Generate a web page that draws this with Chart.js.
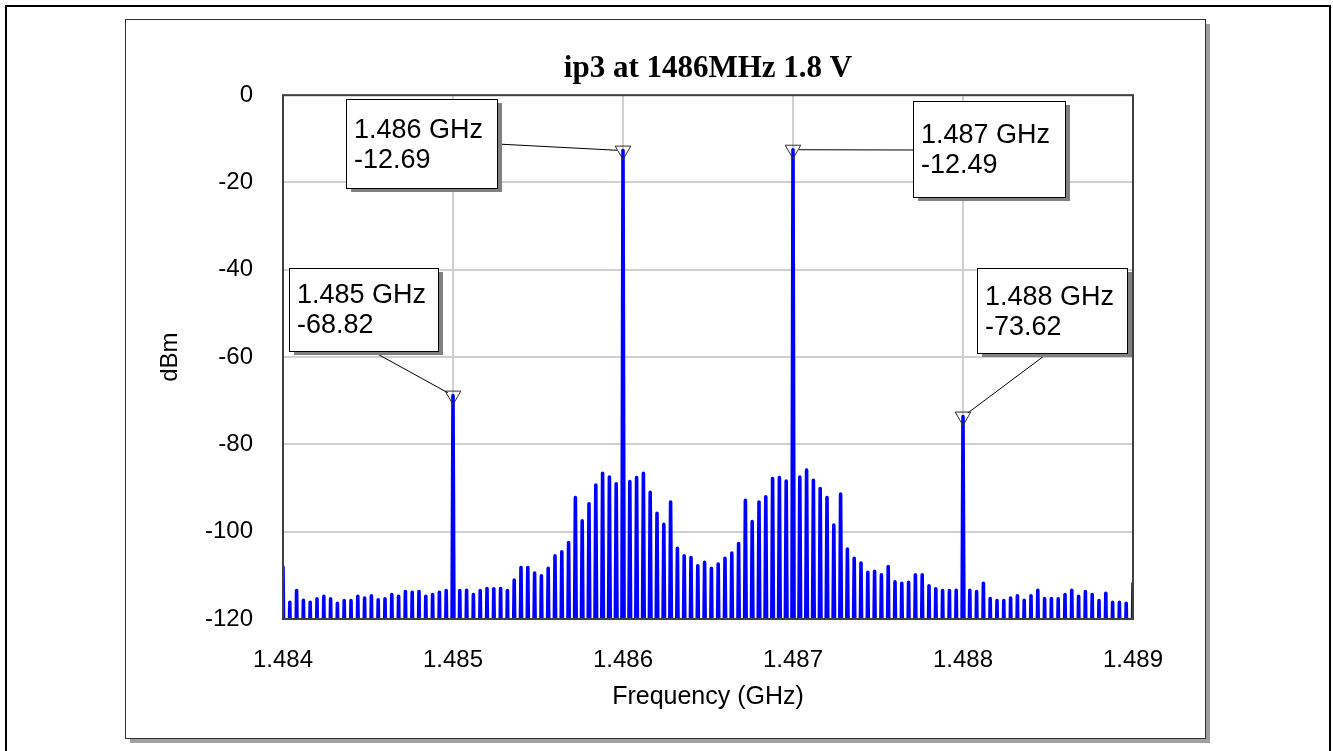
<!DOCTYPE html>
<html><head><meta charset="utf-8">
<script src="https://cdn.jsdelivr.net/npm/chart.js@4.4.1/dist/chart.umd.min.js"></script>
<style>html,body{margin:0;padding:0;background:#fff;overflow:hidden}canvas{display:block}</style>
</head><body>
<canvas id="c" width="1333" height="751"></canvas>
<script>
// ---------------- data ----------------
const chartTitle = 'ip3 at 1486MHz 1.8 V';
const xAxisTitle = 'Frequency (GHz)';
const yAxisTitle = 'dBm';
const xTickValues = [1.484, 1.485, 1.486, 1.487, 1.488, 1.489];
const yTickValues = [0, -20, -40, -60, -80, -100, -120];
const freqStart = 1.484;    // GHz, first spectral line
const freqStep = 0.00004;   // GHz between spectral lines (40 kHz)
// peak level (dBm) of each spectral line, 1.484 .. 1.489 GHz
const peakLevels = [
  -108.1, -116.2, -113.5, -115.7, -116.2, -115.4, -114.8, -115.4, -116.4, -115.8,
  -115.8, -114.8, -115.2, -114.7, -115.6, -115.4, -114.4, -114.8, -113.7, -113.9,
  -113.7, -114.8, -114.4, -113.9, -113.5, -68.82, -113.5, -113.4, -114.4, -113.5,
  -113.0, -113.1, -113.0, -113.5, -111.1, -108.2, -108.2, -109.5, -110.1, -108.4,
  -105.5, -104.6, -102.5, -92.2, -97.5, -93.6, -89.3, -86.6, -87.5, -89.0,
  -12.69, -88.5, -87.6, -86.6, -91.0, -95.8, -98.3, -93.2, -103.8, -105.5,
  -105.9, -107.8, -107.0, -108.4, -107.4, -106.1, -104.9, -102.7, -92.8, -97.7,
  -93.2, -92.0, -87.8, -87.6, -88.4, -12.49, -87.5, -85.9, -88.2, -90.1,
  -92.2, -98.5, -91.4, -104.0, -106.1, -107.2, -109.3, -109.1, -109.9, -108.0,
  -111.5, -111.8, -111.6, -109.9, -109.9, -112.4, -113.1, -113.5, -113.5, -113.4,
  -73.62, -113.4, -113.7, -111.8, -115.3, -115.8, -115.8, -115.2, -114.7, -115.7,
  -114.7, -113.4, -115.3, -115.3, -115.4, -114.4, -113.4, -114.8, -113.7, -114.4,
  -115.8, -114.1, -116.2, -116.2, -116.4, -111.8
];
const traceFloor = -135;    // trace level between lines (below the axis)
const markerFreqs = [1.485, 1.486, 1.487, 1.488];
const markerLevels = [-68.82, -12.69, -12.49, -73.62];

// ---------------- layout / style (not data) ----------------
const spikeHalfWidth = 0.000007;
const markerBoxes = [
  {x: 289, y: 268, w: 149, h: 83, ty: 35, ax: 372, ay: 351},
  {x: 346, y: 99,  w: 151, h: 89, ty: 39, ax: 497, ay: 144},
  {x: 913, y: 101, w: 152, h: 96, ty: 42, ax: 913, ay: 150},
  {x: 977, y: 268, w: 150, h: 85, ty: 37, ax: 1048, ay: 353}
];
const SANS = '"Liberation Sans", Arial, sans-serif';
const SERIF = '"Liberation Serif", "Times New Roman", serif';

// build trace points from the peak list
const tracePoints = [];
peakLevels.forEach((lvl, k) => {
  const f = freqStart + k * freqStep;
  tracePoints.push({x: f - spikeHalfWidth, y: traceFloor});
  tracePoints.push({x: f, y: lvl});
  tracePoints.push({x: f + spikeHalfWidth, y: traceFloor});
});
const markerPoints = markerFreqs.map((f, i) => ({x: f, y: markerLevels[i]}));

const decorPlugin = {
  id: 'decor',
  beforeDraw(chart) {
    const ctx = chart.ctx;
    ctx.save();
    ctx.fillStyle = '#fff';
    ctx.fillRect(0, 0, chart.width, chart.height);
    ctx.strokeStyle = '#000';
    ctx.lineWidth = 2;
    ctx.strokeRect(6, 6, 1324, 800);
    ctx.fillStyle = '#a0a0a0';
    ctx.fillRect(130, 24, 1080, 719);
    ctx.fillStyle = '#fff';
    ctx.fillRect(125, 19, 1080, 719);
    ctx.strokeStyle = '#303030';
    ctx.lineWidth = 1;
    ctx.strokeRect(125.5, 19.5, 1080, 719);
    ctx.restore();
  },
  afterDatasetsDraw(chart) {
    const ctx = chart.ctx;
    const a = chart.chartArea;
    const xs = chart.scales.x, ys = chart.scales.y;
    ctx.save();
    ctx.strokeStyle = '#404040';
    ctx.lineWidth = 2;
    ctx.strokeRect(a.left, a.top, a.right - a.left, a.bottom - a.top);
    markerBoxes.forEach((b, i) => {
      const px = xs.getPixelForValue(markerFreqs[i]);
      const py = ys.getPixelForValue(markerLevels[i]);
      const dx = px - b.ax, dy = py - b.ay;
      const len = Math.hypot(dx, dy);
      const ex = px - dx / len * 6, ey = py - dy / len * 6;
      ctx.strokeStyle = '#000';
      ctx.lineWidth = 1;
      ctx.beginPath();
      ctx.moveTo(b.ax, b.ay);
      ctx.lineTo(ex, ey);
      ctx.stroke();
      ctx.fillStyle = '#808080';
      ctx.fillRect(b.x + 5, b.y + 4, b.w, b.h);
      ctx.fillStyle = '#fff';
      ctx.fillRect(b.x, b.y, b.w, b.h);
      ctx.strokeStyle = '#000';
      ctx.strokeRect(b.x + 0.5, b.y + 0.5, b.w, b.h);
      ctx.fillStyle = '#000';
      ctx.font = '27px ' + SANS;
      ctx.textAlign = 'left';
      ctx.textBaseline = 'alphabetic';
      ctx.fillText(markerFreqs[i].toFixed(3) + ' GHz', b.x + 8, b.y + b.ty);
      ctx.fillText(markerLevels[i].toFixed(2), b.x + 8, b.y + b.ty + 30);
    });
    ctx.restore();
  }
};

new Chart(document.getElementById('c'), {
  type: 'line',
  data: {
    datasets: [
      {
        label: 'markers',
        data: markerPoints,
        showLine: false,
        pointStyle: 'triangle',
        rotation: 180,
        pointRadius: 9,
        pointBorderColor: '#303030',
        pointBorderWidth: 1,
        pointBackgroundColor: 'rgba(0,0,0,0)',
        order: 0,
        clip: false
      },
      {
        label: 'spectrum',
        data: tracePoints,
        borderColor: '#0000ff',
        borderWidth: 3.6,
        borderJoinStyle: 'round',
        borderCapStyle: 'round',
        pointRadius: 0,
        tension: 0,
        fill: false,
        order: 1,
        clip: 0
      }
    ]
  },
  options: {
    responsive: false,
    animation: false,
    devicePixelRatio: 1,
    layout: {padding: {left: 150, right: 200, top: 40, bottom: 39}},
    plugins: {
      legend: {display: false},
      tooltip: {enabled: false},
      title: {
        display: true,
        text: chartTitle,
        fullSize: false,
        color: '#000',
        font: {family: SERIF, size: 31, weight: 'bold'},
        padding: {top: 10, bottom: 8}
      }
    },
    scales: {
      x: {
        type: 'linear',
        min: 1.484,
        max: 1.489,
        afterBuildTicks: (s) => { s.ticks = xTickValues.map(v => ({value: v})); },
        afterFit: (s) => { s.height = 93; },
        grid: {color: '#d0d0d0', lineWidth: 2, drawTicks: false},
        border: {display: false},
        ticks: {
          color: '#000',
          padding: 27,
          maxRotation: 0,
          autoSkip: false,
          font: {family: SANS, size: 24},
          callback: (v) => Number(v).toFixed(3)
        },
        title: {
          display: true,
          text: xAxisTitle,
          color: '#000',
          font: {family: SANS, size: 25},
          padding: {top: 6, bottom: 0}
        }
      },
      y: {
        type: 'linear',
        min: -120,
        max: 0,
        afterBuildTicks: (s) => { s.ticks = yTickValues.map(v => ({value: v})); },
        afterFit: (s) => { s.width = 133; },
        grid: {color: '#d0d0d0', lineWidth: 2, drawTicks: false},
        border: {display: false},
        ticks: {
          color: '#000',
          padding: 30,
          autoSkip: false,
          font: {family: SANS, size: 24},
          callback: (v) => String(v)
        },
        title: {
          display: true,
          text: yAxisTitle,
          color: '#000',
          font: {family: SANS, size: 24},
          padding: {top: 6, bottom: 0}
        }
      }
    }
  },
  plugins: [decorPlugin]
});
</script>
</body></html>
